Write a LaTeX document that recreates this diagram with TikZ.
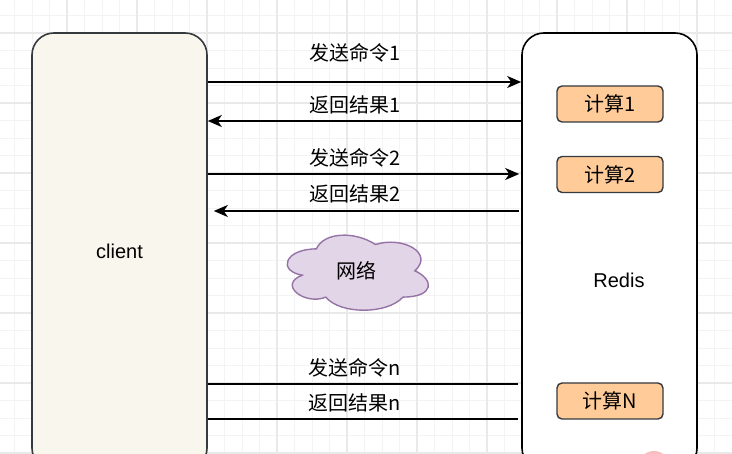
\documentclass[tikz,border=0pt]{standalone}
\usepackage{fontspec}
\setmainfont{Liberation Sans}
\newfontfamily\cjk{Noto Sans CJK SC}
\usetikzlibrary{arrows.meta,positioning}
\definecolor{gridminor}{RGB}{243,243,243}
\definecolor{gridmajor}{RGB}{233,233,233}
\definecolor{edgegray}{RGB}{54,57,61}
\definecolor{clientfill}{RGB}{249,247,237}
\definecolor{calcfill}{RGB}{255,204,153}
\definecolor{cloudfill}{RGB}{225,213,231}
\definecolor{cloudedge}{RGB}{150,115,166}
\definecolor{dotpink}{RGB}{248,190,190}
\tikzset{
  hostbox/.style={rounded corners=22pt,line width=1.6pt,
    minimum width=175pt,minimum height=437pt,font=\fontsize{20}{24}\selectfont},
  calcbox/.style={draw=edgegray,fill=calcfill,rounded corners=5pt,line width=1.4pt,
    minimum width=106pt,minimum height=36pt,inner sep=0pt,font=\cjk\fontsize{20}{24}\selectfont},
  msglabel/.style={inner sep=0pt,font=\cjk\fontsize{20}{24}\selectfont},
  msgarrow/.style={-{Stealth[length=14pt,width=12pt,inset=4pt]},line width=1.6pt},
  msgline/.style={line width=1.6pt},
  cloudshape/.style={draw=cloudedge,fill=cloudfill,line width=1.4pt},
}
\begin{document}
\begin{tikzpicture}[x=1pt,y=-1pt]
        \useasboundingbox (0,0) rectangle (732,454);
        \clip (0,0) rectangle (732,454);
        % background grid
        \foreach \i in {0,...,41}
          \draw[gridminor,line width=0.8pt] (14.5+17.5*\i,0) -- (14.5+17.5*\i,454);
        \foreach \i in {0,...,25}
          \draw[gridminor,line width=0.8pt] (0,15.5+17.5*\i) -- (732,15.5+17.5*\i);
        \foreach \i in {0,...,9}
          \draw[gridmajor,line width=1.1pt] (67+70*\i,0) -- (67+70*\i,454);
        \foreach \i in {0,...,6}
          \draw[gridmajor,line width=1.1pt] (0,33+70*\i) -- (732,33+70*\i);

        \node[hostbox,draw=edgegray,fill=clientfill] (client) at (119.5,251.5) {client};
        \node[hostbox,draw=black,fill=white] (redis) at (609.5,251.5) {};
        \node[font=\fontsize{20}{24}\selectfont] (redisname) at (619,280) {Redis};

        \node[calcbox] (calc1) at (610,104) {计算1};
        \node[calcbox] (calc2) at (610,174.5) {计算2};
        \node[calcbox] (calcn) at (610,401) {计算N};

        % network cloud
        \begin{scope}[shift={(277,227)},x=157.5pt,y=-87.6pt]
          \draw[cloudshape] (0.25,0.25) .. controls (0.05,0.25) and (0,0.5) .. (0.16,0.55)
            .. controls (0,0.66) and (0.18,0.9) .. (0.31,0.8)
            .. controls (0.4,1) and (0.7,1) .. (0.8,0.8)
            .. controls (1,0.8) and (1,0.6) .. (0.875,0.5)
            .. controls (1,0.3) and (0.8,0.1) .. (0.625,0.2)
            .. controls (0.5,0.05) and (0.3,0.05) .. (0.25,0.25) -- cycle;
        \end{scope}
        \node[msglabel] (net) at (356,271) {网络};

        % message rows
        \coordinate (rowsend1) at (0,82);
        \coordinate (rowback1) at (0,121);
        \coordinate (rowsend2) at (0,174);
        \coordinate (rowback2) at (0,211);
        \coordinate (rowsendn) at (0,384);
        \coordinate (rowbackn) at (0,419);

        \draw[msgarrow] (client.east |- rowsend1) -- (redis.west |- rowsend1);
        \draw[msgarrow] (redis.west |- rowback1) -- (client.east |- rowback1);
        \draw[msgarrow,shorten >=2pt] (client.east |- rowsend2) -- (redis.west |- rowsend2);
        \draw[msgarrow,shorten <=2pt,shorten >=6pt] (redis.west |- rowback2) -- (client.east |- rowback2);
        \draw[msgline,shorten >=3pt] (client.east |- rowsendn) -- (redis.west |- rowsendn);
        \draw[msgline,shorten >=3pt] (client.east |- rowbackn) -- (redis.west |- rowbackn);

        \node[msglabel] (send1) at (355,53) {发送命令1};
        \node[msglabel] (back1) at (355,105) {返回结果1};
        \node[msglabel] (send2) at (355,157.5) {发送命令2};
        \node[msglabel] (back2) at (355,193.5) {返回结果2};
        \node[msglabel] (sendn) at (355,367.5) {发送命令n};
        \node[msglabel] (backn) at (355,402.5) {返回结果n};

        \fill[dotpink] (654,467) circle[radius=16];
      \end{tikzpicture}
\end{document}
